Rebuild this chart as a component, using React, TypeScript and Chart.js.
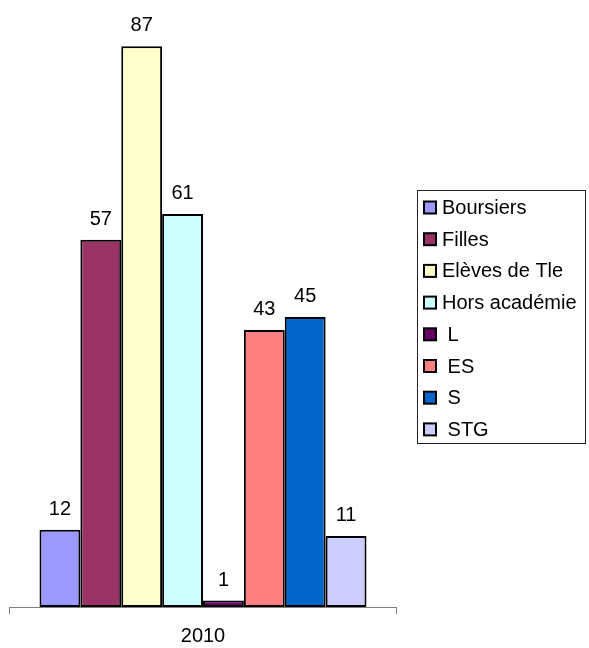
import React, { useEffect, useRef } from "react";
import { Chart, registerables } from "chart.js";

Chart.register(...registerables);

const categories = ["2010"];
const seriesNames = ["Boursiers", "Filles", "Elèves de Tle", "Hors académie", " L", " ES", " S", " STG"];
const seriesValues = [12, 57, 87, 61, 1, 43, 45, 11];
const seriesColors = ["#9999FF", "#993366", "#FFFFCC", "#CCFFFF", "#660066", "#FF8080", "#0066CC", "#CCCCFF"];

const FONT = '"Liberation Sans", Arial, sans-serif';

const valueLabels = {
  id: "valueLabels",
  afterDatasetsDraw(chart: any) {
    const ctx = chart.ctx;
    ctx.save();
    ctx.font = `20px ${FONT}`;
    ctx.fillStyle = "#000";
    ctx.textAlign = "center";
    ctx.textBaseline = "alphabetic";
    chart.data.datasets.forEach((ds: any, i: number) => {
      const meta = chart.getDatasetMeta(i);
      meta.data.forEach((el: any, j: number) => {
        ctx.fillText(String(ds.data[j]), el.x, el.y - 15);
      });
    });
    ctx.restore();
  },
};

const boxLegend = {
  id: "boxLegend",
  afterDraw(chart: any) {
    const ctx = chart.ctx;
    ctx.save();
    ctx.strokeStyle = "#202020";
    ctx.lineWidth = 1;
    ctx.strokeRect(417.5, 190.5, 168, 253);
    ctx.font = `20px ${FONT}`;
    ctx.textBaseline = "middle";
    ctx.textAlign = "left";
    chart.data.datasets.forEach((ds: any, i: number) => {
      const cy = 207.5 + i * 31.7;
      ctx.fillStyle = ds.backgroundColor;
      ctx.fillRect(424, cy - 6, 12, 12);
      ctx.strokeStyle = "#000";
      ctx.lineWidth = 2;
      ctx.strokeRect(424, cy - 6, 12, 12);
      ctx.fillStyle = "#000";
      ctx.fillText(ds.label, 442, cy + 1);
    });
    ctx.restore();
  },
};

export default function App() {
  const ref = useRef<HTMLCanvasElement>(null);
  useEffect(() => {
    const chart = new Chart(ref.current as HTMLCanvasElement, {
      type: "bar",
      data: {
        labels: categories,
        datasets: seriesNames.map((name, i) => ({
          label: name,
          data: [seriesValues[i]],
          backgroundColor: seriesColors[i],
          borderColor: "#000",
          borderWidth: 2,
          borderSkipped: false,
          barPercentage: 1,
          categoryPercentage: 0.845,
        })),
      },
      options: {
        animation: false,
        responsive: false,
        maintainAspectRatio: false,
        events: [],
        layout: { padding: { left: 9.5, right: 192.5, top: 27, bottom: 0 } },
        plugins: { legend: { display: false }, tooltip: { enabled: false } },
        scales: {
          y: { display: false, min: 0, max: 90 },
          x: {
            offset: true,
            afterFit: (scale: any) => {
              scale.height = 41;
            },
            grid: {
              display: true,
              offset: true,
              drawOnChartArea: false,
              drawTicks: true,
              tickLength: 7,
              color: "#808080",
            },
            border: { display: true, color: "#808080", width: 1 },
            ticks: {
              color: "#000",
              padding: 10,
              font: { family: FONT, size: 20 },
            },
          },
        },
      },
      plugins: [valueLabels, boxLegend],
    });
    return () => chart.destroy();
  }, []);
  return (
    <div style={{ position: "absolute", left: 0, top: 0, width: 589, height: 648, background: "#fff" }}>
      <canvas ref={ref} width={589} height={648} style={{ display: "block" }} />
    </div>
  );
}
